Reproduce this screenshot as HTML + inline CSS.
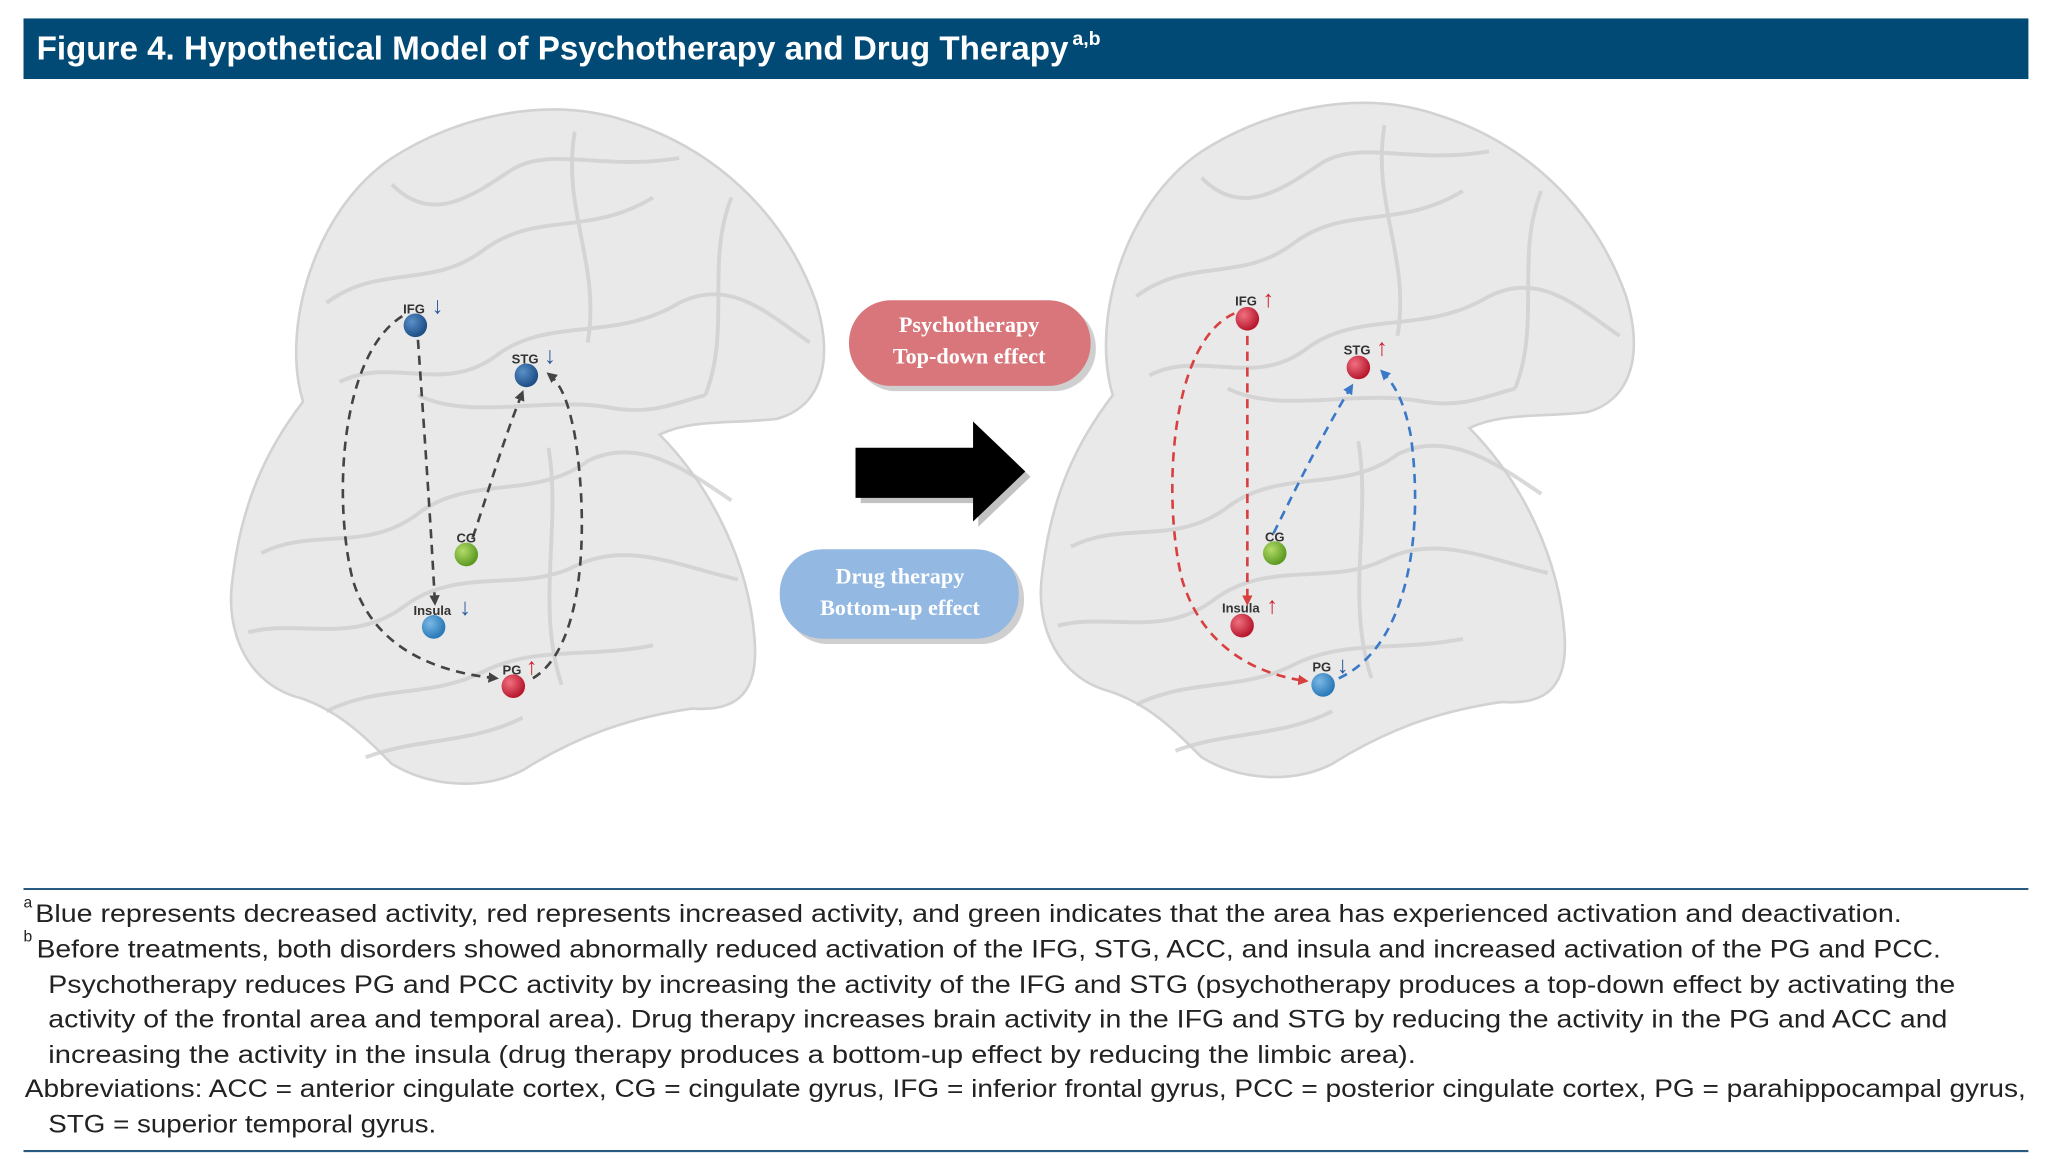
<!DOCTYPE html>
<html><head><meta charset="utf-8"><style>
html,body{margin:0;padding:0;background:#fff;width:2048px;height:1159px;overflow:hidden}
svg{display:block}
</style></head><body>
<svg width="2048" height="1159" viewBox="0 0 1568 880" preserveAspectRatio="none" xmlns="http://www.w3.org/2000/svg">
<defs>
<radialGradient id="gb" cx="35%" cy="35%" r="65%"><stop offset="0" stop-color="#5a8fc8"/><stop offset="1" stop-color="#1d4f86"/></radialGradient>
<radialGradient id="gb2" cx="35%" cy="35%" r="65%"><stop offset="0" stop-color="#7ab8e6"/><stop offset="1" stop-color="#2a79b8"/></radialGradient>
<radialGradient id="gr" cx="35%" cy="35%" r="65%"><stop offset="0" stop-color="#f07080"/><stop offset="1" stop-color="#b8182e"/></radialGradient>
<radialGradient id="gg" cx="35%" cy="35%" r="65%"><stop offset="0" stop-color="#b4dc6a"/><stop offset="1" stop-color="#5c9a22"/></radialGradient>
<marker id="ak" markerWidth="8" markerHeight="8" refX="6" refY="4" orient="auto" markerUnits="userSpaceOnUse"><path d="M0,0 L8,4 L0,8 z" fill="#444"/></marker>
<marker id="ar" markerWidth="8" markerHeight="8" refX="6" refY="4" orient="auto" markerUnits="userSpaceOnUse"><path d="M0,0 L8,4 L0,8 z" fill="#d84040"/></marker>
<marker id="ab" markerWidth="8" markerHeight="8" refX="6" refY="4" orient="auto" markerUnits="userSpaceOnUse"><path d="M0,0 L8,4 L0,8 z" fill="#3a78c8"/></marker>
<g id="brain">
<path d="M232,305 C215,250 240,160 300,120 C350,88 420,72 480,92 C545,112 600,160 625,230 C640,280 625,310 595,318 C560,322 530,318 505,330 C545,370 575,430 578,490 C580,530 560,540 530,538 C480,545 440,560 400,585 C370,600 330,598 300,580 C280,560 260,540 230,530 C190,520 172,480 178,440 C185,380 205,340 232,305 Z" fill="#e9e9e9" stroke="#d2d2d2" stroke-width="2"/>
<g fill="none" stroke="#d0d0d0" stroke-width="3" opacity="0.8">
<path d="M250,230 C290,200 330,220 370,190 C410,160 450,180 500,150"/>
<path d="M300,140 C330,170 360,150 390,130 C420,110 460,130 520,120"/>
<path d="M260,290 C300,270 340,300 380,270 C420,240 470,260 520,230 C560,210 590,240 620,260"/>
<path d="M320,300 C360,320 420,300 470,310 C500,315 520,305 540,300"/>
<path d="M200,420 C240,400 280,420 320,390 C360,360 410,380 450,350 C490,330 530,360 560,380"/>
<path d="M190,480 C230,470 270,490 310,460 C350,430 400,450 440,430 C480,410 520,430 565,440"/>
<path d="M250,540 C290,520 330,530 370,510 C410,490 450,500 500,490"/>
<path d="M280,575 C320,560 360,565 400,545"/>
<path d="M440,100 C430,160 460,200 450,260"/>
<path d="M560,150 C540,200 560,250 540,300"/>
<path d="M420,340 C430,400 410,460 430,520"/>
</g>
</g>
</defs>

<rect x="18" y="14" width="1535" height="46" fill="#004a75"/>
<text x="28" y="45" font-family="Liberation Sans, sans-serif" font-weight="bold" font-size="25" fill="#fff" textLength="790" lengthAdjust="spacingAndGlyphs">Figure 4. Hypothetical Model of Psychotherapy and Drug Therapy</text>
<text x="821" y="34" font-family="Liberation Sans, sans-serif" font-weight="bold" font-size="15" fill="#fff">a,b</text>

<use href="#brain"/>
<use href="#brain" transform="translate(620,-5)"/>

<g fill="none" stroke="#444" stroke-width="2" stroke-dasharray="7,5">
<path d="M320,258 C325,330 330,400 333,458" marker-end="url(#ak)"/>
<path d="M308,240 C260,270 255,380 270,440 C285,490 330,510 380,515" marker-end="url(#ak)"/>
<path d="M362,408 C375,370 385,335 400,298" marker-end="url(#ak)"/>
<path d="M408,515 C450,490 450,390 440,330 C435,305 430,292 420,284" marker-end="url(#ak)"/>
</g>
<g fill="none" stroke-width="2" stroke-dasharray="7,5">
<path d="M955,255 L955,458" stroke="#d84040" marker-end="url(#ar)"/>
<path d="M945,238 C895,260 890,380 905,440 C920,490 960,512 1000,517" stroke="#d84040" marker-end="url(#ar)"/>
<path d="M975,405 C995,365 1015,325 1035,293" stroke="#3a78c8" marker-end="url(#ab)"/>
<path d="M1025,515 C1080,490 1090,400 1080,330 C1075,305 1068,292 1058,282" stroke="#3a78c8" marker-end="url(#ab)"/>
</g>

<g font-family="Liberation Sans, sans-serif" font-weight="bold" font-size="10" fill="#333" text-anchor="middle">
<circle cx="318" cy="247" r="9" fill="url(#gb)"/><text x="317" y="238">IFG</text><text x="335" y="238" fill="#2a5a9a" font-size="18">↓</text>
<circle cx="403" cy="285" r="9" fill="url(#gb)"/><text x="402" y="276">STG</text><text x="421" y="276" fill="#2a5a9a" font-size="18">↓</text>
<circle cx="357" cy="421" r="9" fill="url(#gg)"/><text x="357" y="412">CG</text>
<circle cx="332" cy="476" r="9" fill="url(#gb2)"/><text x="331" y="467">Insula</text><text x="356" y="467" fill="#2a5a9a" font-size="18">↓</text>
<circle cx="393" cy="521" r="9" fill="url(#gr)"/><text x="392" y="512">PG</text><text x="407" y="512" fill="#d02030" font-size="18">↑</text>

<circle cx="955" cy="242" r="9" fill="url(#gr)"/><text x="954" y="232">IFG</text><text x="971" y="233" fill="#d02030" font-size="18">↑</text>
<circle cx="1040" cy="279" r="9" fill="url(#gr)"/><text x="1039" y="269">STG</text><text x="1058" y="270" fill="#d02030" font-size="18">↑</text>
<circle cx="976" cy="420" r="9" fill="url(#gg)"/><text x="976" y="411">CG</text>
<circle cx="951" cy="475" r="9" fill="url(#gr)"/><text x="950" y="465">Insula</text><text x="974" y="466" fill="#d02030" font-size="18">↑</text>
<circle cx="1013" cy="520" r="9" fill="url(#gb2)"/><text x="1012" y="510">PG</text><text x="1028" y="511" fill="#2a5a9a" font-size="18">↓</text>
</g>

<rect x="654" y="232" width="185" height="65" rx="32" fill="#bbb" opacity="0.7"/>
<rect x="650" y="228" width="185" height="65" rx="32" fill="#d8767b"/>
<text x="742" y="252" text-anchor="middle" font-family="Liberation Serif, serif" font-weight="bold" font-size="17" fill="#fff">Psychotherapy</text>
<text x="742" y="276" text-anchor="middle" font-family="Liberation Serif, serif" font-weight="bold" font-size="17" fill="#fff">Top-down effect</text>
<rect x="601" y="421" width="183" height="68" rx="33" fill="#bbb" opacity="0.7"/>
<rect x="597" y="417" width="183" height="68" rx="33" fill="#93b8e2"/>
<text x="689" y="443" text-anchor="middle" font-family="Liberation Serif, serif" font-weight="bold" font-size="17" fill="#fff">Drug therapy</text>
<text x="689" y="467" text-anchor="middle" font-family="Liberation Serif, serif" font-weight="bold" font-size="17" fill="#fff">Bottom-up effect</text>

<path d="M659,344 L749,344 L749,324 L789,362 L749,400 L749,382 L659,382 Z" fill="#999" opacity="0.6"/>
<path d="M655,340 L745,340 L745,320 L785,358 L745,396 L745,378 L655,378 Z" fill="#000"/>

<line x1="18" y1="675" x2="1553" y2="675" stroke="#2b5a80" stroke-width="1.6"/>
<line x1="18" y1="874" x2="1553" y2="874" stroke="#2b5a80" stroke-width="1.6"/>
<g font-family="Liberation Sans, sans-serif" font-size="19" fill="#222">
<text x="18" y="689" font-size="12">a</text>
<text x="27" y="700" textLength="1429" lengthAdjust="spacingAndGlyphs">Blue represents decreased activity, red represents increased activity, and green indicates that the area has experienced activation and deactivation.</text>
<text x="18" y="715" font-size="12">b</text>
<text x="28" y="727" textLength="1458" lengthAdjust="spacingAndGlyphs">Before treatments, both disorders showed abnormally reduced activation of the IFG, STG, ACC, and insula and increased activation of the PG and PCC.</text>
<text x="37" y="754" textLength="1460" lengthAdjust="spacingAndGlyphs">Psychotherapy reduces PG and PCC activity by increasing the activity of the IFG and STG (psychotherapy produces a top-down effect by activating the</text>
<text x="37" y="780" textLength="1454" lengthAdjust="spacingAndGlyphs">activity of the frontal area and temporal area). Drug therapy increases brain activity in the IFG and STG by reducing the activity in the PG and ACC and</text>
<text x="37" y="807" textLength="1047" lengthAdjust="spacingAndGlyphs">increasing the activity in the insula (drug therapy produces a bottom-up effect by reducing the limbic area).</text>
<text x="19" y="833" textLength="1532" lengthAdjust="spacingAndGlyphs">Abbreviations: ACC = anterior cingulate cortex, CG = cingulate gyrus, IFG = inferior frontal gyrus, PCC = posterior cingulate cortex, PG = parahippocampal gyrus,</text>
<text x="37" y="860" textLength="297" lengthAdjust="spacingAndGlyphs">STG = superior temporal gyrus.</text>
</g>
</svg>
</body></html>
